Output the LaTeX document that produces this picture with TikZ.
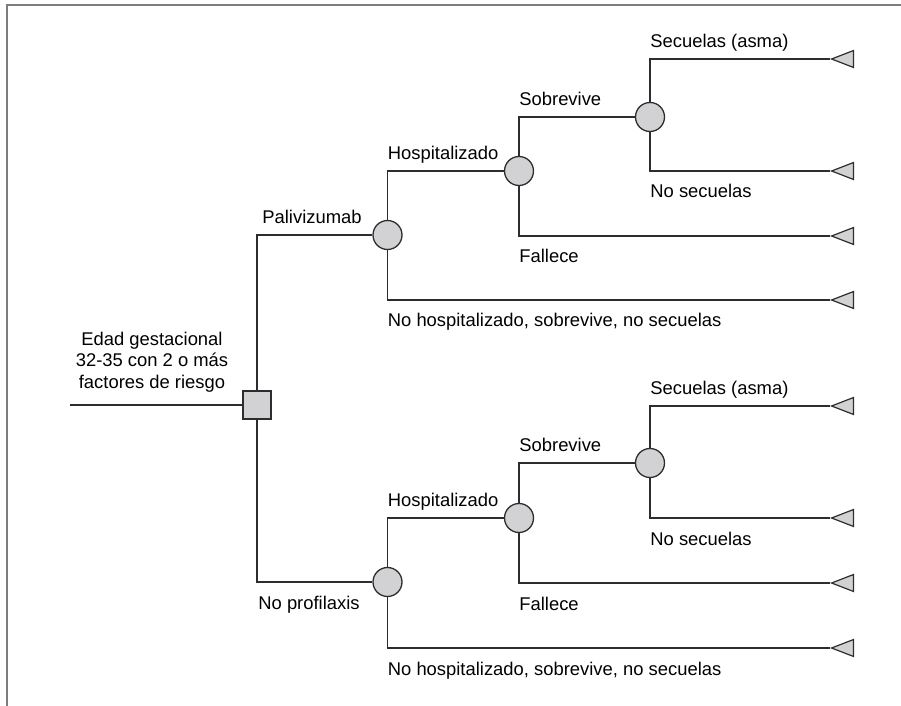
\documentclass[tikz,border=0pt]{standalone}
\usepackage{fontspec}
\setmainfont{Liberation Sans}
\usepackage{xcolor}
\usepackage{tikz}
\usetikzlibrary{arrows.meta, positioning, shapes.geometric}
\definecolor{treeline}{RGB}{45, 45, 45}
\definecolor{nodegray}{RGB}{210, 210, 212}
\definecolor{framegray}{RGB}{125, 125, 125}

\begin{document}
\begin{tikzpicture}[
  x=0.5pt, y=-0.5pt,
  decision/.style={
    rectangle, draw=treeline, fill=nodegray,
    line width=0.65pt, minimum size=14pt, inner sep=0pt
  },
  chance/.style={
    circle, draw=treeline, fill=nodegray,
    line width=0.65pt, minimum size=14.5pt, inner sep=0pt
  },
  terminal/.style={
    isosceles triangle, isosceles triangle stretches, shape border rotate=180,
    draw=treeline, fill=nodegray, line width=0.6pt,
    minimum width=8.5pt, minimum height=11pt, inner sep=0pt, anchor=apex
  },
  branch/.style={draw=treeline, line width=0.65pt},
  lab/.style={font=\fontsize{9.2}{11}\selectfont, inner sep=0pt, anchor=base west},
]

\useasboundingbox (0,0) rectangle (901,706);

% frame (only top and left edges show)
\draw[framegray, line width=0.9pt] (7,706) -- (7,5) -- (901,5);

\def\colA{257}
\def\colB{387.5}
\def\colC{519}
\def\colD{650}
\def\colE{830}

% upper arm rows
\def\rA{59}
\def\rB{117}
\def\rC{171}
\def\rD{235}
\def\rE{236}
\def\rF{300}
% lower arm rows
\def\rG{406}
\def\rH{463}
\def\rI{518}
\def\rJ{582}
\def\rK{583}
\def\rL{648}

% Root and decision
\coordinate (root) at (70, 405);
\node[decision] (dec) at (\colA, 405) {};
\node[font=\fontsize{9.2}{10.8}\selectfont, align=center] (rootLab) at (152, 362)
  {Edad gestacional\\32-35 con 2 o más\\factores de riesgo};
\draw[branch] (root) -- (dec);

% Upper arm: Palivizumab
\node[chance] (palA)   at (\colB, \rD) {};
\node[chance] (hospA)  at (\colC, \rC) {};
\node[chance] (sobA)   at (\colD, \rB) {};
\node[terminal] (secA)    at (\colE, \rA) {};
\node[terminal] (noSecA)  at (\colE, \rC) {};
\node[terminal] (fallA)   at (\colE, \rE) {};
\node[terminal] (noHospA) at (\colE, \rF) {};

\draw[branch] (dec.north) |- (palA);
\draw[branch] (palA.north) |- (hospA);
\draw[branch] (palA.south) |- (noHospA);
\draw[branch] (hospA.north) |- (sobA);
\draw[branch] (hospA.south) |- (fallA);
\draw[branch] (sobA.north) |- (secA);
\draw[branch] (sobA.south) |- (noSecA);

\node[lab] (lPalA)    at (\colA+5, \rD-11.5) {Palivizumab};
\node[lab] (lHospA)   at (\colB+0, \rC-11.5) {Hospitalizado};
\node[lab] (lSobA)    at (\colC+0, \rB-11.5) {Sobrevive};
\node[lab] (lSecA)    at (\colD+0, \rA-11.5) {Secuelas (asma)};
\node[lab] (lNoSecA)  at (\colD+0, \rC+27) {No secuelas};
\node[lab] (lFallA)   at (\colC+0, \rE+27) {Fallece};
\node[lab] (lNoHospA) at (\colB+0, \rF+27) {No hospitalizado, sobrevive, no secuelas};

% Lower arm: No profilaxis
\node[chance] (palB)   at (\colB, \rJ) {};
\node[chance] (hospB)  at (\colC, \rI) {};
\node[chance] (sobB)   at (\colD, \rH) {};
\node[terminal] (secB)    at (\colE, \rG) {};
\node[terminal] (noSecB)  at (\colE, \rI) {};
\node[terminal] (fallB)   at (\colE, \rK) {};
\node[terminal] (noHospB) at (\colE, \rL) {};

\draw[branch] (dec.south) |- (palB);
\draw[branch] (palB.north) |- (hospB);
\draw[branch] (palB.south) |- (noHospB);
\draw[branch] (hospB.north) |- (sobB);
\draw[branch] (hospB.south) |- (fallB);
\draw[branch] (sobB.north) |- (secB);
\draw[branch] (sobB.south) |- (noSecB);

\node[lab] (lPalB)    at (\colA+1, \rJ+27) {No profilaxis};
\node[lab] (lHospB)   at (\colB+0, \rI-11.5) {Hospitalizado};
\node[lab] (lSobB)    at (\colC+0, \rH-11.5) {Sobrevive};
\node[lab] (lSecB)    at (\colD+0, \rG-11.5) {Secuelas (asma)};
\node[lab] (lNoSecB)  at (\colD+0, \rI+27) {No secuelas};
\node[lab] (lFallB)   at (\colC+0, \rK+27) {Fallece};
\node[lab] (lNoHospB) at (\colB+0, \rL+27) {No hospitalizado, sobrevive, no secuelas};

\end{tikzpicture}
\end{document}
